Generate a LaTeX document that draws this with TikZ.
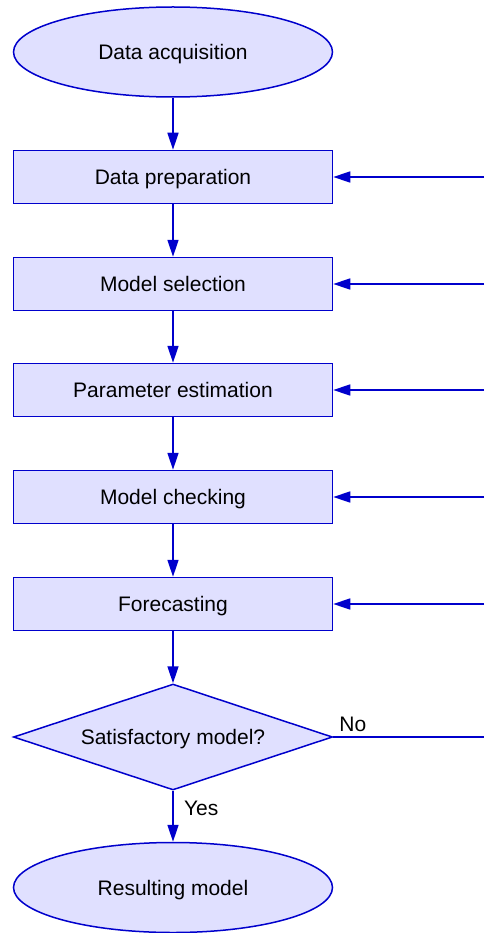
\documentclass[tikz,border=0pt]{standalone}
\usepackage{fontspec}
\setmainfont{Liberation Sans}
\usetikzlibrary{shapes.geometric,arrows.meta}
\definecolor{flowline}{HTML}{0000CC}
\definecolor{flowfill}{HTML}{E0E0FF}
\begin{document}
\begin{tikzpicture}[x=1pt,y=-1pt,font=\fontsize{21}{25}\selectfont,
    base/.style={draw=flowline,fill=flowfill,line width=1.5pt,inner sep=0pt,text height=15pt,text depth=0pt},
    terminal/.style={base,ellipse,minimum width=319pt,minimum height=90pt},
    stepbox/.style={base,rectangle,minimum width=319pt,minimum height=53pt},
    decision/.style={base,diamond,shape aspect=3,minimum width=319pt,minimum height=106pt},
    arr/.style={draw=flowline,line width=1.5pt,-{Triangle[length=17pt,width=11pt]}},
    plain/.style={draw=flowline,line width=1.5pt}]
                        \useasboundingbox (0,0) rectangle (484,933);
                        \node[terminal] (acq) at (173,52) {Data acquisition};
                        \node[stepbox] (prep) at (173,177) {Data preparation};
                        \node[stepbox] (sel) at (173,284) {Model selection};
                        \node[stepbox] (est) at (173,390) {Parameter estimation};
                        \node[stepbox] (check) at (173,497) {Model checking};
                        \node[stepbox] (fore) at (173,604) {Forecasting};
                        \node[decision] (sat) at (173,737) {Satisfactory model?};
                        \node[terminal] (res) at (173,887.5) {Resulting model};
                        \coordinate (in1) at (484,177);
                        \coordinate (in2) at (484,284);
                        \coordinate (in3) at (484,390);
                        \coordinate (in4) at (484,497);
                        \coordinate (in5) at (484,604);
                        \coordinate (out) at (484,737);
                        \draw[arr] (acq) -- (prep);
                        \draw[arr] (prep) -- (sel);
                        \draw[arr] (sel) -- (est);
                        \draw[arr] (est) -- (check);
                        \draw[arr] (check) -- (fore);
                        \draw[arr] (fore) -- (sat);
                        \draw[arr] (sat) -- node (yes) [right,pos=0.34,xshift=7pt] {Yes} (res);
                        \draw[plain] (sat.east) -- node (no) [above,pos=0.13,inner sep=5pt] {No} (out);
                        \draw[arr] (in1) -- (prep.east);
                        \draw[arr] (in2) -- (sel.east);
                        \draw[arr] (in3) -- (est.east);
                        \draw[arr] (in4) -- (check.east);
                        \draw[arr] (in5) -- (fore.east);
                    \end{tikzpicture}
\end{document}
